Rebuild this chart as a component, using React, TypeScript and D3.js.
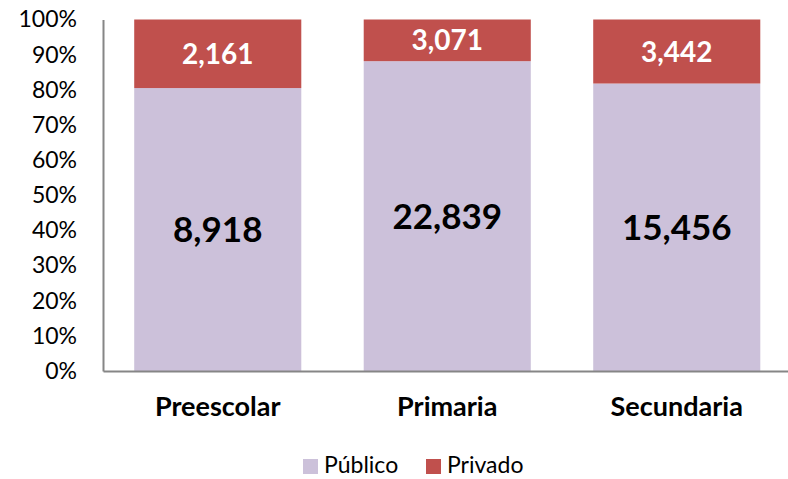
import * as d3 from 'd3';
import React, { useRef, useEffect } from 'react';

const categories = ["Preescolar", "Primaria", "Secundaria"];
const publico = [8918, 22839, 15456];
const privado = [2161, 3071, 3442];
const yTicks = [0, 0.1, 0.2, 0.3, 0.4, 0.5, 0.6, 0.7, 0.8, 0.9, 1];
const seriesNames = ["Público", "Privado"];
const colors = ["#CCC1DA", "#C0504D"];

export default function App() {
  const ref = useRef<SVGSVGElement>(null);
  const width = 788;
  const height = 479;

  useEffect(() => {
    const svg = d3.select(ref.current);
    svg.selectAll("*").remove();
    const font = "Lato, 'Open Sans', sans-serif";

    const left = 103, right = 791.5, top = 19.5, bottom = 371;

    const x = d3.scaleBand<string>()
      .domain(categories)
      .range([left, right])
      .paddingInner(0.272)
      .paddingOuter(0.136);
    const y = d3.scaleLinear().domain([0, 1]).range([bottom, top]);

    const rows = categories.map((c, i) => {
      const total = publico[i] + privado[i];
      return { cat: c, pub: publico[i], priv: privado[i], share: publico[i] / total };
    });

    // bars
    const g = svg.append("g");
    g.selectAll("rect.pub").data(rows).enter().append("rect")
      .attr("x", d => x(d.cat)!)
      .attr("width", x.bandwidth())
      .attr("y", d => y(d.share))
      .attr("height", d => y(0) - y(d.share))
      .attr("fill", colors[0]);
    g.selectAll("rect.priv").data(rows).enter().append("rect")
      .attr("x", d => x(d.cat)!)
      .attr("width", x.bandwidth())
      .attr("y", y(1))
      .attr("height", d => y(d.share) - y(1))
      .attr("fill", colors[1]);

    // value labels
    const fmt = d3.format(",");
    g.selectAll("text.pub").data(rows).enter().append("text")
      .attr("x", d => x(d.cat)! + x.bandwidth() / 2)
      .attr("y", d => (y(0) + y(d.share)) / 2)
      .attr("dy", "0.36em")
      .attr("text-anchor", "middle")
      .attr("font-family", font)
      .attr("font-weight", "bold")
      .attr("font-size", 35)
      .attr("fill", "#000")
      .text(d => fmt(d.pub));
    g.selectAll("text.priv").data(rows).enter().append("text")
      .attr("x", d => x(d.cat)! + x.bandwidth() / 2)
      .attr("y", d => (y(1) + y(d.share)) / 2)
      .attr("dy", "0.36em")
      .attr("text-anchor", "middle")
      .attr("font-family", font)
      .attr("font-weight", "bold")
      .attr("font-size", 28)
      .attr("fill", "#fff")
      .text(d => fmt(d.priv));

    // y axis
    const yAxis = svg.append("g")
      .attr("transform", `translate(${left},0)`)
      .call(d3.axisLeft(y).tickValues(yTicks).tickFormat(d3.format(".0%")).tickSize(0).tickPadding(26));
    yAxis.select(".domain").attr("stroke", "#868686").attr("stroke-width", 2);
    yAxis.selectAll("text")
      .attr("font-family", font)
      .attr("font-size", 23)
      .attr("fill", "#000");

    // x axis
    const xAxis = svg.append("g")
      .attr("transform", `translate(0,${bottom})`)
      .call(d3.axisBottom(x).tickSize(0).tickPadding(26));
    xAxis.select(".domain").attr("stroke", "#868686").attr("stroke-width", 2);
    xAxis.selectAll("text")
      .attr("font-family", font)
      .attr("font-weight", "bold")
      .attr("font-size", 27)
      .attr("fill", "#000");

    // legend
    const legendX = [303, 426];
    const leg = svg.append("g");
    seriesNames.forEach((name, i) => {
      leg.append("rect")
        .attr("x", legendX[i]).attr("y", 459)
        .attr("width", 15).attr("height", 15)
        .attr("fill", colors[i]);
      leg.append("text")
        .attr("x", legendX[i] + 21).attr("y", 465)
        .attr("dy", "0.36em")
        .attr("font-family", font)
        .attr("font-size", 23)
        .attr("fill", "#000")
        .text(name);
    });
  }, []);

  return (
    <svg ref={ref} width={width} height={height}
      style={{ position: "absolute", left: 0, top: 0, background: "#fff" }} />
  );
}
